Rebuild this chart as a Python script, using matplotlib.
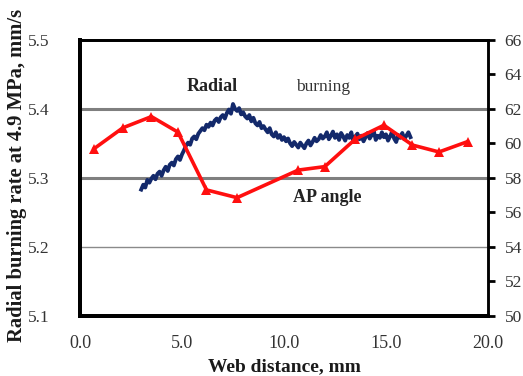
import matplotlib.pyplot as plt
import numpy as np

plt.rcParams['font.family'] = ['Liberation Serif', 'DejaVu Serif']

# radial burning rate (left axis), sampled every 0.1 mm of web
rate_start, rate_step = 3.0, 0.1
burn_rate = [
    5.283, 5.290, 5.286, 5.297, 5.293, 5.299, 5.303, 5.298, 5.306, 5.309,
    5.303, 5.311, 5.316, 5.310, 5.319, 5.322, 5.318, 5.327, 5.331, 5.326,
    5.334, 5.340, 5.347, 5.351, 5.348, 5.357, 5.360, 5.356, 5.364, 5.368,
    5.372, 5.369, 5.377, 5.374, 5.380, 5.376, 5.383, 5.386, 5.381, 5.388,
    5.391, 5.386, 5.394, 5.399, 5.393, 5.407, 5.400, 5.397, 5.401, 5.392,
    5.395, 5.389, 5.386, 5.391, 5.382, 5.387, 5.379, 5.376, 5.381, 5.372,
    5.375, 5.370, 5.366, 5.372, 5.363, 5.360, 5.366, 5.358, 5.362, 5.355,
    5.359, 5.353, 5.357, 5.350, 5.346, 5.352, 5.348, 5.344, 5.351, 5.347,
    5.343, 5.350, 5.354, 5.347, 5.352, 5.358, 5.353, 5.356, 5.362, 5.357,
    5.360, 5.366, 5.356, 5.361, 5.367, 5.358, 5.363, 5.355, 5.365, 5.360,
    5.354, 5.362, 5.358, 5.366, 5.352, 5.360, 5.364, 5.356, 5.361, 5.353,
    5.359, 5.365, 5.357, 5.362, 5.368, 5.355, 5.361, 5.358, 5.366, 5.359,
    5.363, 5.354, 5.360, 5.367, 5.357, 5.352, 5.362, 5.358, 5.365, 5.356,
    5.361, 5.366, 5.359,
]
rate_web = rate_start + rate_step * np.arange(len(burn_rate))

# AP particle angle (right axis)
ap_web = [0.7, 2.1, 3.5, 4.8, 6.2, 7.7, 10.7, 12.0, 13.5, 14.9, 16.3, 17.6, 19.0]
ap_angle = [59.7, 60.9, 61.55, 60.65, 57.3, 56.85, 58.45, 58.65, 60.25, 61.05, 59.9, 59.5, 60.1]

left_ticks = [5.1, 5.2, 5.3, 5.4, 5.5]
right_ticks = [50, 52, 54, 56, 58, 60, 62, 64, 66]
x_ticks = [0, 5, 10, 15, 20]

fig = plt.figure(figsize=(5.23, 3.76), dpi=100)
ax = fig.add_axes([0.153, 0.160, 0.780, 0.734])
ax2 = ax.twinx()

# horizontal grid lines
ax.axhline(5.4, color='#7f7f7f', lw=2.2, zorder=1)
ax.axhline(5.3, color='#7f7f7f', lw=2.2, zorder=1)
ax.axhline(5.2, color='#8a8a8a', lw=1.0, zorder=1)

ax.plot(rate_web, burn_rate, color='#13296b', lw=2.8, zorder=3,
        solid_joinstyle='round')
ax2.plot(ap_web, ap_angle, color='#ff0f0f', lw=2.6, marker='^', ms=7,
         markeredgewidth=0, zorder=4)

ax.set_xlim(0, 20)
ax.set_ylim(5.1, 5.5)
ax2.set_ylim(50, 66)
ax.set_xticks(x_ticks)
ax.set_xticklabels([f'{v:.1f}' for v in x_ticks])
ax.set_yticks(left_ticks)
ax.set_yticklabels([f'{v:.1f}' for v in left_ticks])
ax2.set_yticks(right_ticks)

ax.tick_params(axis='x', length=0, pad=14, labelsize=13, labelcolor='#333333')
ax.tick_params(axis='y', length=0, pad=22, labelsize=12.5, labelcolor='#333333')
ax2.tick_params(axis='y', length=5, width=2, direction='out', pad=7,
                labelsize=12.5, labelcolor='#333333')

for side, lw in [('left', 2.8), ('bottom', 2.8), ('top', 2.0), ('right', 1.8)]:
    ax.spines[side].set_linewidth(lw)
    ax2.spines[side].set_linewidth(lw)

ax.set_xlabel('Web distance, mm', fontsize=14, fontweight='bold', color='#1a1a1a')
ax.xaxis.set_label_coords(0.5, -0.155)
ax.set_ylabel('Radial burning rate at 4.9 MPa, mm/s', fontsize=14.8,
              fontweight='bold', color='#1a1a1a')
ax.yaxis.set_label_coords(-0.13, 0.51)

ax.text(6.5, 5.433, 'Radial', fontsize=13, fontweight='bold', ha='center',
        va='center', color='#222222', zorder=5)
ax.text(11.9, 5.431, 'burning', fontsize=12.5, ha='center', va='center',
        color='#333333', zorder=5)
ax.text(12.1, 5.272, 'AP angle', fontsize=13, fontweight='bold', ha='center',
        va='center', color='#222222', zorder=5)

fig.savefig('out.png', dpi=100, facecolor='white')
